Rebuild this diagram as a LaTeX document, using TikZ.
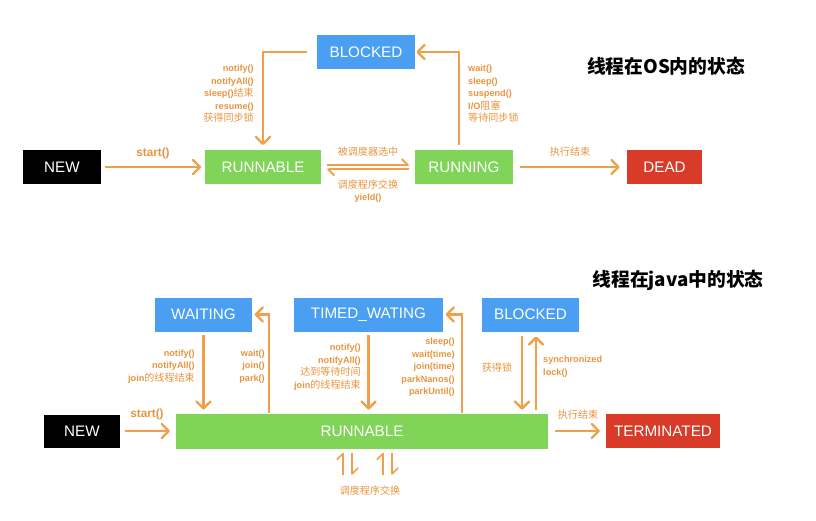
\documentclass[tikz,border=0pt]{standalone}
\usepackage{fontspec}
\setmainfont{Liberation Sans}
\newfontfamily\cjk{Noto Sans CJK SC}
\usetikzlibrary{arrows.meta, calc, positioning}
\definecolor{stateColorB}{HTML}{4A9FF3}
\definecolor{stateColorG}{HTML}{80D457}
\definecolor{stateColorR}{HTML}{D93B29}
\definecolor{stateColorK}{HTML}{000000}
\definecolor{flowColor}{HTML}{F0A04B}
\definecolor{lblColor}{HTML}{E8943F}
\newcommand{\zh}[1]{{\cjk\mdseries\fontsize{8.6}{10.7}\selectfont #1}}
\tikzset{
    state/.style = {fill=#1, text=white, inner sep=0pt, minimum height=1.02cm,
                    font=\fontsize{13}{13}\selectfont},
    state/.default = stateColorG,
    stateB/.style = {state=stateColorB},
    stateG/.style = {state=stateColorG},
    stateR/.style = {state=stateColorR},
    stateK/.style = {state=stateColorK},
    flow/.style = {draw=flowColor, line width=2pt,
                   -{Straight Barb[length=6pt,width=12pt,round]}},
    swapflow/.style = {draw=flowColor, line width=1.6pt,
                       -{Straight Barb[harpoon,length=5pt,width=10pt,round]}},
    lbl/.style = {text=lblColor, inner sep=0pt, font=\bfseries\fontsize{7.8}{10.7}\selectfont},
    startlbl/.style = {lbl, font=\bfseries\fontsize{10}{12}\selectfont},
    title/.style = {inner sep=0pt, font=\cjk\bfseries\fontsize{16}{18}\selectfont}
}
\begin{document}
\begin{tikzpicture}[x=0.03cm, y=-0.03cm]
    \useasboundingbox (0,0) rectangle (816,520);
    % thread states in the OS
    \node[stateK, minimum width=2.34cm] (new1) at (62,167) {NEW};
    \node[stateG, minimum width=3.48cm] (runnable1) at (263,167) {RUNNABLE};
    \node[stateG, minimum width=2.94cm] (running) at (464,167) {RUNNING};
    \node[stateR, minimum width=2.25cm] (dead) at (664.5,167) {DEAD};
    \node[stateB, minimum width=2.94cm] (blocked1) at (366,52) {BLOCKED};
    \node[title] (osTitle) at (666,66) {线程在OS内的状态};

    \draw[flow, shorten <=3pt, shorten >=3pt] (new1) -- (runnable1);
    \draw[flow, shorten <=8pt, shorten >=4pt] (blocked1.west) -| (runnable1.north);
    \draw[flow, shorten <=4pt, shorten >=1pt] ([xshift=-4pt]running.north) |- (blocked1.east);
    \draw[swapflow, shorten <=5pt, shorten >=5pt] ([yshift=1.5pt]runnable1.east) -- ([yshift=1.5pt]running.west);
    \draw[swapflow, shorten <=5pt, shorten >=5pt] ([yshift=-2pt]running.west) -- ([yshift=-2pt]runnable1.east);
    \draw[flow, shorten <=6pt, shorten >=6pt] (running) -- (dead);

    \node[startlbl] (startLbl1) at (153,153) {start()};
    \node[lbl, align=right, anchor=east] (unblockLbl) at (254,94)
        {notify()\\notifyAll()\\sleep()\zh{结束}\\resume()\\\zh{获得同步锁}};
    \node[lbl, align=left, anchor=west] (blockLbl) at (468,94)
        {wait()\\sleep()\\suspend()\\I/O\zh{阻塞}\\\zh{等待同步锁}};
    \node[lbl] (pickLbl) at (368,152) {\zh{被调度器选中}};
    \node[lbl, align=center] (yieldLbl) at (368,191) {\zh{调度程序交换}\\yield()};
    \node[lbl] (endLbl1) at (570,152) {\zh{执行结束}};

    % thread states in java
    \node[stateK, minimum width=2.28cm, minimum height=0.99cm] (new2) at (82,431) {NEW};
    \node[stateG, minimum width=11.16cm, minimum height=1.05cm] (runnable2) at (362,431) {RUNNABLE};
    \node[stateR, minimum width=3.42cm] (terminated) at (663,431) {TERMINATED};
    \node[stateB, minimum width=2.91cm] (waiting) at (203.5,314.5) {WAITING};
    \node[stateB, minimum width=4.47cm] (timed) at (368.5,314.5) {TIMED\_WATING};
    \node[stateB, minimum width=2.91cm] (blocked2) at (530.5,314.5) {BLOCKED};
    \node[title] (javaTitle) at (678,280) {线程在java中的状态};

    \coordinate (waitBack) at (269,0);
    \coordinate (timedBack) at (462,0);
    \coordinate (lockDown) at (522,0);
    \coordinate (lockUp) at (536,0);

    \draw[flow, shorten <=4pt, shorten >=5pt] (new2) -- (new2 -| runnable2.west);
    \draw[flow, shorten <=3pt, shorten >=3pt] (waiting.south) -- (waiting.south |- runnable2.north);
    \draw[flow, shorten >=2pt] (runnable2.north -| waitBack) |- (waiting.east);
    \draw[flow, shorten <=3pt, shorten >=3pt] (timed.south) -- (timed.south |- runnable2.north);
    \draw[flow, shorten >=2pt] (runnable2.north -| timedBack) |- (timed.east);
    \draw[flow, shorten <=4pt, shorten >=3pt] (blocked2.south -| lockDown) -- (runnable2.north -| lockDown);
    \draw[flow, shorten <=3pt, shorten >=4pt] (runnable2.north -| lockUp) -- (blocked2.south -| lockUp);
    \draw[flow, shorten <=6pt, shorten >=5pt] (runnable2.east) -- (runnable2.east -| terminated.west);
    \foreach \dx in {-19,21} {
        \draw[swapflow, line width=1.4pt] ($(runnable2.south)+(\dx,26)$) -- ($(runnable2.south)+(\dx,4)$);
        \draw[swapflow, line width=1.4pt] ($(runnable2.south)+(\dx+9,4)$) -- ($(runnable2.south)+(\dx+9,26)$);
    }

    \node[startlbl] (startLbl2) at (147,414) {start()};
    \node[lbl, align=right, anchor=east] (wakeLbl) at (195,366.5)
        {notify()\\notifyAll()\\join\zh{的线程结束}};
    \node[lbl, align=right, anchor=east] (waitLbl) at (265,366.5) {wait()\\join()\\park()};
    \node[lbl, align=right, anchor=east] (timeoutLbl) at (361,367)
        {notify()\\notifyAll()\\\zh{达到等待时间}\\join\zh{的线程结束}};
    \node[lbl, align=right, anchor=east] (sleepLbl) at (455,367.5)
        {sleep()\\wait(time)\\join(time)\\parkNanos()\\parkUntil()};
    \node[lbl] (lockGotLbl) at (497,368) {\zh{获得锁}};
    \node[lbl, align=left, anchor=west] (syncLbl) at (543,366.5) {synchronized\\lock()};
    \node[lbl] (endLbl2) at (578,415) {\zh{执行结束}};
    \node[lbl] (swapLbl) at (370,491) {\zh{调度程序交换}};
\end{tikzpicture}
\end{document}
